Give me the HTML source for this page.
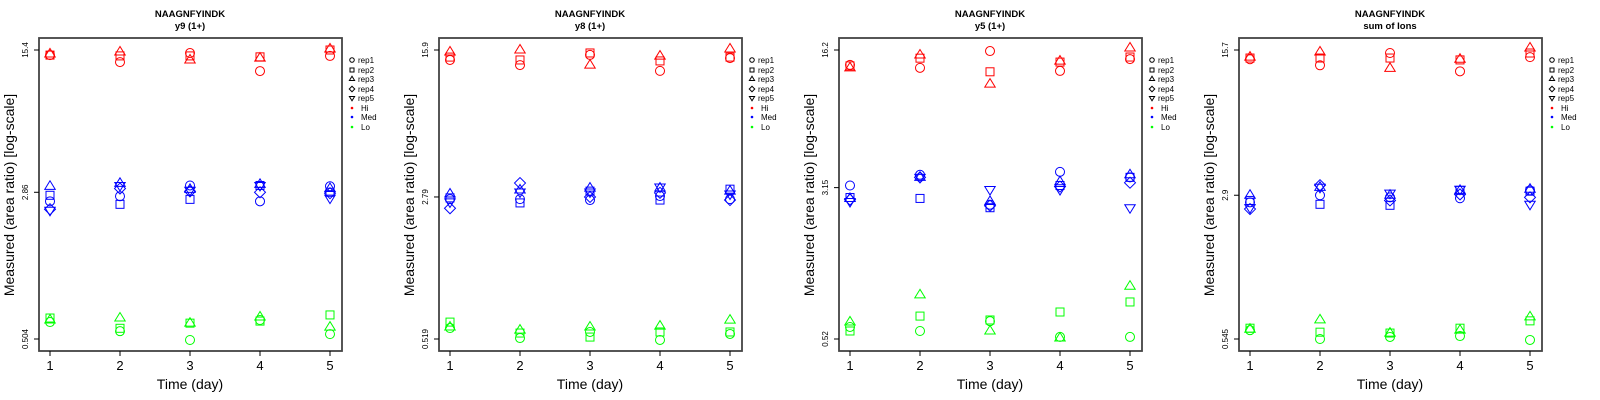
<!DOCTYPE html>
<html><head><meta charset="utf-8"><style>
html,body{margin:0;padding:0;background:#fff;}
svg{display:block;font-family:"Liberation Sans",sans-serif;}
</style></head><body>
<svg id="chart" width="1600" height="400" viewBox="0 0 1600 400" xmlns="http://www.w3.org/2000/svg"></svg>
<script>
const panelTitles = ["NAAGNFYINDK","NAAGNFYINDK","NAAGNFYINDK","NAAGNFYINDK"];
const panelSubtitles = ["y9 (1+)","y8 (1+)","y5 (1+)","sum of Ions"];
const yTickTop = [15.4, 15.9, 16.2, 15.7];
const yTickMid = [2.86, 2.79, 3.15, 2.9];
const yTickBot = [0.504, 0.519, 0.52, 0.545];
const days = [1,2,3,4,5];
const repNames = ["rep1","rep2","rep3","rep4","rep5"];
const levelNames = ["Hi","Med","Lo"];
// values[panel][day][rep]
const hiValues = [
 [[14.5,14.5,14.7],[13.35,14.36,15.04],[14.86,14.36,13.68],[12.0,14.2,14.0],[14.36,15.4,15.58]],
 [[14.13,14.62,15.53],[13.3,14.13,15.9],[15.0,15.35,13.3],[12.42,13.97,14.8],[14.45,14.62,16.09]],
 [[13.57,13.41,13.1],[13.1,14.7,15.26],[16.0,12.5,10.8],[12.63,14.03,14.2],[14.54,14.9,16.6]],
 [[14.1,14.3,14.45],[13.14,14.3,15.34],[15.16,14.3,12.69],[12.25,13.99,14.1],[14.45,15.16,16.07]]
];
const medValues = [
 [[2.57,2.76,3.07,2.34,2.31],[2.73,2.48,3.18,2.99,3.10],[3.10,2.63,2.96,2.89,2.93],[2.57,3.10,3.14,2.86,3.10],[3.07,2.86,2.99,2.83,2.67]],
 [[2.72,2.76,2.89,2.44,2.63],[2.72,2.60,3.03,3.29,2.96],[2.69,2.99,3.10,2.79,2.96],[2.82,2.69,3.10,2.93,3.14],[2.72,3.06,2.99,2.69,2.89]],
 [[3.23,2.80,2.77,2.73,2.67],[3.67,2.77,3.56,3.56,3.56],[2.57,2.48,2.67,2.54,3.08],[3.80,3.23,3.38,3.19,3.08],[3.56,3.56,3.67,3.34,2.48]],
 [[2.67,2.73,2.9,2.47,2.51],[2.9,2.61,3.18,3.26,3.18],[2.83,2.58,2.9,2.73,2.97],[2.80,3.07,3.07,2.93,3.11],[3.07,3.04,3.11,2.83,2.61]]
];
const loValues = [
 [[0.616,0.646,0.631],[0.553,0.572,0.646],[0.498,0.608,0.608],[0.631,0.623,0.654],[0.534,0.670,0.580]],
 [[0.591,0.634,0.598],[0.525,0.557,0.577],[0.564,0.531,0.598],[0.513,0.564,0.605],[0.551,0.564,0.649]],
 [[0.600,0.572,0.637],[0.572,0.683,0.879],[0.643,0.652,0.572],[0.533,0.717,0.526],[0.533,0.808,0.975]],
 [[0.604,0.618,0.611],[0.545,0.590,0.681],[0.558,0.584,0.584],[0.564,0.618,0.604],[0.539,0.673,0.705]]
];
const levelColors = ["#ff0000","#0000ff","#00ff00"];

const NS = "http://www.w3.org/2000/svg";
const svg = document.getElementById("chart");
function mk(tag, attrs, parent){const e=document.createElementNS(NS,tag);for(const k in attrs)e.setAttribute(k,attrs[k]);parent.appendChild(e);return e;}

function marker(g, shape, cx, cy, color, s){
  let e;
  if(shape===0){e=mk("circle",{cx:cx,cy:cy,r:4.5*s,fill:"none",stroke:color,"stroke-width":1},g);}
  else if(shape===1){const h=4*s;e=mk("rect",{x:cx-h,y:cy-h,width:2*h,height:2*h,fill:"none",stroke:color,"stroke-width":1},g);}
  else if(shape===2){const r=5.5*s;e=mk("polygon",{points:`${cx},${cy-r} ${cx-r*0.95},${cy+r*0.55} ${cx+r*0.95},${cy+r*0.55}`,fill:"none",stroke:color,"stroke-width":1},g);}
  else if(shape===3){const r=5.5*s;e=mk("polygon",{points:`${cx},${cy-r} ${cx+r},${cy} ${cx},${cy+r} ${cx-r},${cy}`,fill:"none",stroke:color,"stroke-width":1},g);}
  else {const r=5.5*s;e=mk("polygon",{points:`${cx},${cy+r} ${cx-r*0.95},${cy-r*0.55} ${cx+r*0.95},${cy-r*0.55}`,fill:"none",stroke:color,"stroke-width":1},g);}
  return e;
}

for(let p=0;p<4;p++){
  const ox = p*400;
  const g = mk("g",{transform:`translate(${ox},0)`},svg);
  
  
  const boxL=39, boxR=342, boxT=38, boxB=351;
  const yTopPx=50, yBotPx=339;
  const lt=Math.log(yTickTop[p]), lb=Math.log(yTickBot[p]);
  const yScale = v => yTopPx + (lt-Math.log(v))/(lt-lb)*(yBotPx-yTopPx);
  const xScale = d => 50 + (d-1)*70;

  let t=mk("text",{x:190,y:17,"text-anchor":"middle","font-size":"9.5","font-weight":"bold"},g);t.textContent=panelTitles[p];
  
  
  t=mk("text",{x:190,y:29,"text-anchor":"middle","font-size":"9.5","font-weight":"bold"},g);t.textContent=panelSubtitles[p];
  
  

  const levels=[hiValues[p],medValues[p],loValues[p]];
  levels.forEach((lv,li)=>{
    lv.forEach((dayVals,di)=>{
      dayVals.forEach((v,ri)=>{
        if(v==null)return;
        const m=marker(g,ri,xScale(days[di]),yScale(v),levelColors[li],1);
        
        
      });
    });
  });

  const box=mk("rect",{x:boxL,y:boxT,width:boxR-boxL,height:boxB-boxT,fill:"none",stroke:"#444","stroke-width":1.8},g);
  
  

  days.forEach(d=>{
    const x=xScale(d);
    mk("line",{x1:x,y1:boxB,x2:x,y2:boxB+5,stroke:"#000","stroke-width":1},g);
    const tl=mk("text",{x:x,y:370,"text-anchor":"middle","font-size":"13"},g);tl.textContent=d;
    
    
  });
  t=mk("text",{x:190,y:389,"text-anchor":"middle","font-size":"14"},g);t.textContent="Time (day)";
  
  

  [yTickTop[p],yTickMid[p],yTickBot[p]].forEach(v=>{
    const y=yScale(v);
    mk("line",{x1:boxL,y1:y,x2:boxL-5,y2:y,stroke:"#000","stroke-width":1},g);
    const tl=mk("text",{x:0,y:0,"text-anchor":"middle","font-size":"8",transform:`translate(28,${y}) rotate(-90)`},g);tl.textContent=v;
    
    
  });
  t=mk("text",{x:0,y:0,"text-anchor":"middle","font-size":"14",transform:`translate(14,195) rotate(-90)`},g);t.textContent="Measured (area ratio) [log-scale]";
  
  

  const lg=mk("g",{},g);
  
  
  const rows=[60,70,79,89,98,108,117,127];
  repNames.forEach((r,i)=>{
    const m=marker(lg,i,352,rows[i],"#000",0.5);
    
    
    const tx=mk("text",{x:358,y:rows[i]+3,"font-size":"8"},lg);tx.textContent=r;
    
    
  });
  levelNames.forEach((n,i)=>{
    const y=rows[5+i];
    mk("circle",{cx:352,cy:y,r:1.3,fill:levelColors[i]},lg);
    const tx=mk("text",{x:361,y:y+3,"font-size":"8"},lg);tx.textContent=n;
    
    
  });
}
</script>
</body></html>
